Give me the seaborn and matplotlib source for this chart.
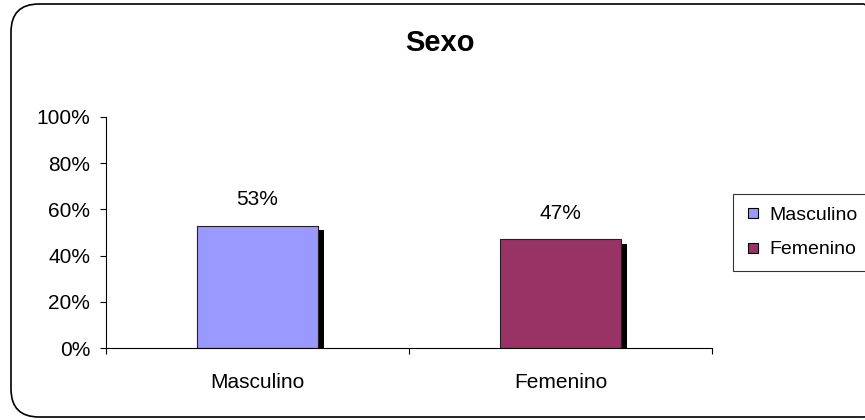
import matplotlib
matplotlib.use("Agg")
import matplotlib.pyplot as plt
import seaborn as sns
import pandas as pd
from matplotlib.patches import FancyBboxPatch
from matplotlib.lines import Line2D
from matplotlib.transforms import IdentityTransform
import matplotlib.patheffects as pe

categories = ["Masculino", "Femenino"]
values = [53, 47]
colors = ["#9999FF", "#993366"]
yticks = [0, 20, 40, 60, 80, 100]
title = "Sexo"

sns.set_style("white")
plt.rcParams["font.family"] = ["Liberation Sans", "DejaVu Sans"]
plt.rcParams["text.color"] = "black"
plt.rcParams["xtick.color"] = "black"
plt.rcParams["ytick.color"] = "black"
plt.rcParams["xtick.labelcolor"] = "black"
plt.rcParams["ytick.labelcolor"] = "black"

df = pd.DataFrame({"cat": categories, "val": values})

fig = plt.figure(figsize=(8.65, 4.2), dpi=100)
ax = fig.add_axes([106 / 865, 1 - 348 / 420, (712 - 106) / 865, (348 - 117) / 420])

sns.barplot(data=df, x="cat", y="val", hue="cat", palette=dict(zip(categories, colors)),
            width=0.4, edgecolor="#222222", linewidth=0.8, legend=False, ax=ax,
            saturation=1)

shadow = [pe.SimplePatchShadow(offset=(4.0, -3.2), shadow_rgbFace="black", alpha=1.0), pe.Normal()]
for p in ax.patches:
    p.set_path_effects(shadow)

for cont in ax.containers:
    ax.bar_label(cont, labels=[f"{v:.0f}%" for v in cont.datavalues], padding=12,
                 fontsize=15, color="black")

ax.set_xlim(-0.5, 1.5)
ax.set_ylim(0, 100)
ax.set_yticks(yticks)
ax.set_yticklabels([f"{t}%" for t in yticks], fontsize=15)
ax.tick_params(axis="y", direction="out", length=4.3, width=0.8, pad=7, left=True, color="black")
ax.tick_params(axis="x", which="major", length=0, pad=18, labelsize=15)
ax.set_xticks([-0.5, 0.5, 1.5], minor=True)
ax.tick_params(axis="x", which="minor", direction="out", length=4, width=0.8, bottom=True, color="black")
ax.set_xlabel("")
ax.set_ylabel("")
for s in ["top", "right"]:
    ax.spines[s].set_visible(False)
for s in ["left", "bottom"]:
    ax.spines[s].set_color("black")
    ax.spines[s].set_linewidth(0.8)

fig.text(440 / 865, 1 - 43 / 420, title, fontsize=21, fontweight="bold", ha="center",
         va="center", color="black")

handles = [Line2D([], [], marker="s", linestyle="", markerfacecolor=c, markeredgecolor="black",
                  markeredgewidth=0.8, markersize=7.5) for c in colors]
leg = fig.legend(handles, categories, loc="upper left", bbox_to_anchor=(733 / 865, 1 - 194 / 420),
                 fontsize=14, frameon=True, fancybox=False, edgecolor="black",
                 borderaxespad=0, handlelength=0.8, handletextpad=0.4, labelspacing=0.85,
                 borderpad=0.65)
leg.get_frame().set_linewidth(0.8)

border = FancyBboxPatch((11, 3), 880, 413, boxstyle="round,pad=0,rounding_size=28",
                        transform=IdentityTransform(), facecolor="none", edgecolor="black",
                        linewidth=1.2)
fig.patches.append(border)

fig.savefig("out.png", dpi=100)
